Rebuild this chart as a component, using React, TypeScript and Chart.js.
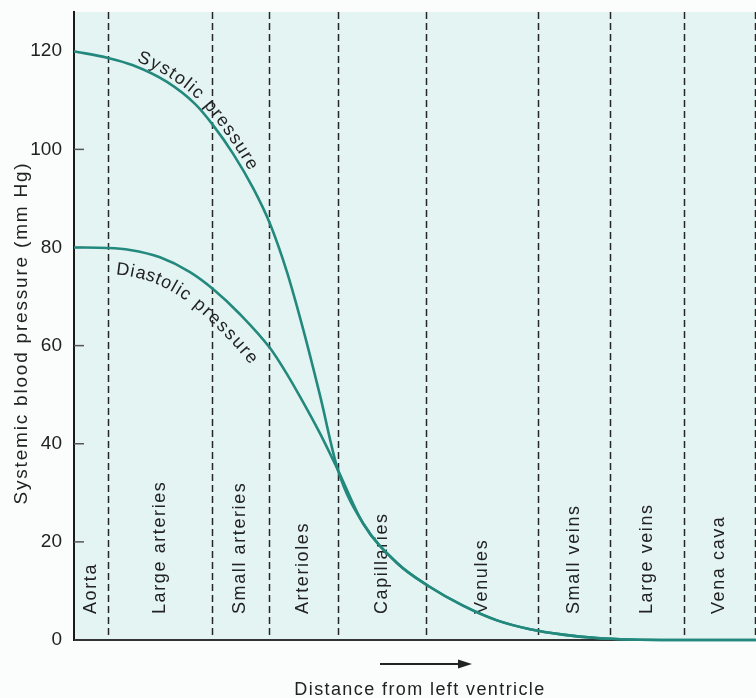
import React, { useEffect, useRef } from "react";
import { Chart, registerables } from "chart.js";

Chart.register(...registerables);

// ---------- data ----------
const yTickValues = [0, 20, 40, 60, 80, 100, 120];
const regionLabels = [
  "Aorta",
  "Large arteries",
  "Small arteries",
  "Arterioles",
  "Capillaries",
  "Venules",
  "Small veins",
  "Large veins",
  "Vena cava",
];
// boundaries between vessel regions, in distance units
const regionBounds = [0, 34, 138, 195, 264, 352, 464, 536, 610, 681];

const systolicDistance = [0, 34, 59, 93, 121, 139, 159, 179, 196, 213, 229, 246, 264];
const systolicPressure = [120, 118.64, 117.14, 113.74, 109.26, 104.94, 99.14, 92.14, 84.83, 74.97, 63.45, 49.85, 34.6];

const diastolicDistance = [0, 34, 56, 86, 116, 139, 166, 196, 211, 226, 246, 264];
const diastolicPressure = [80, 79.9, 79.5, 78.0, 75.0, 71.55, 66.4, 59.5, 54.85, 49.6, 42.1, 34.6];

// shared tail after the curves merge
const venousDistance = [289, 323, 356, 389, 423, 456, 489, 523, 556, 600, 682];
const venousPressure = [23.8, 15.7, 10.8, 7.0, 4.0, 2.2, 1.1, 0.4, 0.1, 0, 0];

const X_MAX = 682;
const Y_MAX = 128;

const FONT = '"Liberation Sans", Arial, Helvetica, sans-serif';
const TEXT_COLOR = "#222";
const CURVE_COLOR = "#23897c";

function toPoints(xs: number[], ys: number[]) {
  return xs.map((x, i) => ({ x, y: ys[i] }));
}

function buildPath(meta: any) {
  const pts = meta.data as any[];
  const out: { x: number; y: number }[] = [];
  for (let i = 0; i < pts.length - 1; i++) {
    const p0 = pts[i];
    const p1 = pts[i + 1];
    const c1x = p0.cp2x ?? p0.x;
    const c1y = p0.cp2y ?? p0.y;
    const c2x = p1.cp1x ?? p1.x;
    const c2y = p1.cp1y ?? p1.y;
    for (let k = 0; k < 24; k++) {
      const t = k / 24;
      const mt = 1 - t;
      out.push({
        x: mt * mt * mt * p0.x + 3 * mt * mt * t * c1x + 3 * mt * t * t * c2x + t * t * t * p1.x,
        y: mt * mt * mt * p0.y + 3 * mt * mt * t * c1y + 3 * mt * t * t * c2y + t * t * t * p1.y,
      });
    }
  }
  const last = pts[pts.length - 1];
  out.push({ x: last.x, y: last.y });
  return out;
}

function drawTextOnPath(
  ctx: CanvasRenderingContext2D,
  path: { x: number; y: number }[],
  text: string,
  startX: number,
  offset: number,
  spacing: number
) {
  const cum: number[] = [0];
  for (let i = 1; i < path.length; i++) {
    cum.push(cum[i - 1] + Math.hypot(path[i].x - path[i - 1].x, path[i].y - path[i - 1].y));
  }
  const at = (s: number) => {
    let i = 1;
    while (i < cum.length - 1 && cum[i] < s) i++;
    const seg = cum[i] - cum[i - 1] || 1;
    const t = Math.min(1, Math.max(0, (s - cum[i - 1]) / seg));
    return {
      x: path[i - 1].x + (path[i].x - path[i - 1].x) * t,
      y: path[i - 1].y + (path[i].y - path[i - 1].y) * t,
    };
  };
  let s = 0;
  for (let i = 0; i < path.length; i++) {
    if (path[i].x >= startX) {
      s = cum[i];
      break;
    }
  }
  for (const ch of text) {
    const w = ctx.measureText(ch).width;
    const mid = s + w / 2;
    const p = at(mid);
    const a = at(mid - 8);
    const b = at(mid + 8);
    const ang = Math.atan2(b.y - a.y, b.x - a.x);
    ctx.save();
    ctx.translate(p.x, p.y);
    ctx.rotate(ang);
    ctx.fillText(ch, -w / 2, offset);
    ctx.restore();
    s += w + spacing;
  }
}

const decorPlugin = {
  id: "decor",
  beforeDraw(chart: any) {
    const { ctx, chartArea } = chart;
    ctx.save();
    ctx.fillStyle = "#fbfdfd";
    ctx.fillRect(0, 0, chart.width, chart.height);
    ctx.fillStyle = "#e3f4f3";
    ctx.fillRect(chartArea.left, chartArea.top, chartArea.right - chartArea.left, chartArea.bottom - chartArea.top);
    ctx.restore();
  },
  beforeDatasetsDraw(chart: any) {
    const { ctx, chartArea, scales } = chart;
    const xs = scales.x;
    const ys = scales.y;
    ctx.save();
    // dashed region separators
    ctx.strokeStyle = "#262626";
    ctx.lineWidth = 1.5;
    ctx.setLineDash([7, 4]);
    for (let i = 1; i < regionBounds.length; i++) {
      const x = Math.round(xs.getPixelForValue(regionBounds[i])) + 0.5;
      ctx.beginPath();
      ctx.moveTo(x, chartArea.top);
      ctx.lineTo(x, chartArea.bottom);
      ctx.stroke();
    }
    ctx.setLineDash([]);
    // inner tick marks
    ctx.strokeStyle = "#555";
    ctx.lineWidth = 1.5;
    for (const v of yTickValues) {
      if (v === 0 || v === 120) continue;
      const y = ys.getPixelForValue(v);
      ctx.beginPath();
      ctx.moveTo(chartArea.left, y);
      ctx.lineTo(chartArea.left + 10, y);
      ctx.stroke();
    }
    // x axis line
    ctx.strokeStyle = "#333";
    ctx.lineWidth = 2;
    ctx.beginPath();
    ctx.moveTo(chartArea.left, chartArea.bottom);
    ctx.lineTo(chartArea.right, chartArea.bottom);
    ctx.stroke();
    // region labels
    ctx.fillStyle = TEXT_COLOR;
    ctx.font = `18px ${FONT}`;
    (ctx as any).letterSpacing = "1.6px";
    ctx.textAlign = "left";
    ctx.textBaseline = "middle";
    for (let i = 0; i < regionLabels.length; i++) {
      const cx = (xs.getPixelForValue(regionBounds[i]) + xs.getPixelForValue(regionBounds[i + 1])) / 2;
      ctx.save();
      ctx.translate(cx, chartArea.bottom - 26);
      ctx.rotate(-Math.PI / 2);
      ctx.fillText(regionLabels[i], 0, 0);
      ctx.restore();
    }
    (ctx as any).letterSpacing = "0px";
    ctx.restore();
  },
  afterDatasetsDraw(chart: any) {
    const { ctx } = chart;
    ctx.save();
    ctx.fillStyle = TEXT_COLOR;
    ctx.font = `18px ${FONT}`;
    ctx.textBaseline = "alphabetic";
    ctx.textAlign = "left";
    const sysPath = buildPath(chart.getDatasetMeta(0));
    const diaPath = buildPath(chart.getDatasetMeta(1));
    drawTextOnPath(ctx, sysPath, "Systolic pressure", 134, -5, 1.3);
    drawTextOnPath(ctx, diaPath, "Diastolic pressure", 119, 26, 2.6);

    // y axis title
    ctx.font = `19px ${FONT}`;
    (ctx as any).letterSpacing = "1.8px";
    ctx.textAlign = "center";
    ctx.save();
    ctx.translate(26.5, 333);
    ctx.rotate(-Math.PI / 2);
    ctx.fillText("Systemic blood pressure (mm Hg)", 0, 0);
    ctx.restore();

    // x axis title
    ctx.font = `18px ${FONT}`;
    (ctx as any).letterSpacing = "1.4px";
    ctx.fillText("Distance from left ventricle", 420, 695);
    (ctx as any).letterSpacing = "0px";

    // arrow
    ctx.strokeStyle = "#222";
    ctx.lineWidth = 2;
    ctx.beginPath();
    ctx.moveTo(380, 664);
    ctx.lineTo(460, 664);
    ctx.stroke();
    ctx.beginPath();
    ctx.moveTo(472, 664);
    ctx.lineTo(458, 659.5);
    ctx.lineTo(458, 668.5);
    ctx.closePath();
    ctx.fill();
    ctx.restore();
  },
};

export default function App() {
  const canvasRef = useRef<HTMLCanvasElement | null>(null);

  useEffect(() => {
    document.body.style.margin = "0";
    const canvas = canvasRef.current;
    if (!canvas) return;
    const lineStyle = {
      borderColor: CURVE_COLOR,
      borderWidth: 2.6,
      pointRadius: 0,
      fill: false,
      cubicInterpolationMode: "monotone",
      clip: false,
    };
    const chart = new Chart(canvas, {
      type: "line",
      data: {
        datasets: [
          {
            label: "Systolic pressure",
            data: toPoints([...systolicDistance, ...venousDistance], [...systolicPressure, ...venousPressure]),
            ...lineStyle,
          },
          {
            label: "Diastolic pressure",
            data: toPoints([...diastolicDistance, ...venousDistance], [...diastolicPressure, ...venousPressure]),
            ...lineStyle,
          },
        ],
      },
      options: {
        animation: false,
        responsive: false,
        devicePixelRatio: 1,
        layout: { padding: { top: 12, right: 0, bottom: 58, left: 0 } },
        plugins: { legend: { display: false }, tooltip: { enabled: false } },
        scales: {
          x: { type: "linear", min: 0, max: X_MAX, display: false },
          y: {
            type: "linear",
            min: 0,
            max: Y_MAX,
            afterBuildTicks: (s: any) => {
              s.ticks = yTickValues.map((v) => ({ value: v }));
            },
            afterFit: (s: any) => {
              s.width = 74;
              s.paddingTop = 0;
              s.paddingBottom = 0;
            },
            grid: { display: false, drawTicks: false },
            border: { display: true, color: "#1a1a1a", width: 2 },
            ticks: {
              padding: 12,
              color: TEXT_COLOR,
              font: { family: FONT, size: 19 },
            },
          },
        },
      },
      plugins: [decorPlugin],
    } as any);
    return () => chart.destroy();
  }, []);

  return (
    <div style={{ width: 756, height: 698 }}>
      <canvas ref={canvasRef} width={756} height={698} style={{ width: 756, height: 698, display: "block" }} />
    </div>
  );
}
